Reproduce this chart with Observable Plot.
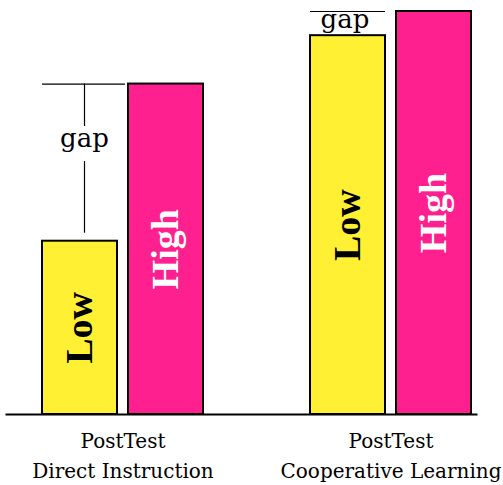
<!DOCTYPE html>
<html><head><meta charset="utf-8">
<script src="https://cdn.jsdelivr.net/npm/d3@7"></script>
<script src="https://cdn.jsdelivr.net/npm/@observablehq/plot@0.6"></script>
<style>body{margin:0;background:#fff}</style>
</head><body><div id="chart"></div>
<script>
const groups = ["Direct Instruction", "Cooperative Learning"];
const levels = ["Low", "High"];
const lowValues = [43, 94];
const highValues = [82, 100];
const groupPrefix = "PostTest";
const gapLabel = "gap";
const colors = ["#fff033", "#ff2090"];

const bars = groups.flatMap((g, i) => [
  {group: g, level: levels[0], value: lowValues[i]},
  {group: g, level: levels[1], value: highValues[i]}
]);
const gaps = groups.map((g, i) => ({
  group: g, level: levels[0], low: lowValues[i], high: highValues[i],
  labelY: highValues[i] - 0.35 * (highValues[i] - lowValues[i])
}));
const diGap = gaps.filter(d => d.group === groups[0]);
const clGap = gaps.filter(d => d.group === groups[1]);

const boldSerif = "'Liberation Serif', 'DejaVu Serif', serif";
const serif = "'DejaVu Serif', 'Liberation Serif', serif";
const chart = Plot.plot({
  width: 503, height: 485,
  marginTop: 11, marginBottom: 71, marginLeft: 6, marginRight: 26,
  style: {fontFamily: serif, background: "white", overflow: "visible"},
  fx: {domain: groups, paddingInner: 0.3985, paddingOuter: 0.0764, align: 0.872, label: null},
  x: {domain: levels, paddingInner: 0.133, paddingOuter: 0, axis: null},
  y: {domain: [0, 100], axis: null},
  color: {domain: levels, range: colors},
  marks: [
    Plot.barY(bars, {fx: "group", x: "level", y: "value", fill: "level", stroke: "black", strokeWidth: 2}),
    Plot.text(bars.filter(d => d.level === levels[0]), {fx: "group", x: "level", y: d => d.value / 2, text: "level", rotate: -90, fill: "black", fontSize: 38, fontWeight: "bold", fontFamily: boldSerif}),
    Plot.text(bars.filter(d => d.level === levels[1]), {fx: "group", x: "level", y: d => d.value / 2, text: "level", rotate: -90, fill: "white", fontSize: 38, fontWeight: "bold", fontFamily: boldSerif}),
    Plot.ruleY(diGap, {fx: "group", x1: "level", x2: "level", y: "high", insetRight: -8, stroke: "black", strokeWidth: 1.2}),
    Plot.ruleX(diGap, {fx: "group", x: "level", y1: "high", y2: "labelY", dx: 4.5, insetBottom: 12.5, stroke: "black", strokeWidth: 1.2}),
    Plot.ruleX(diGap, {fx: "group", x: "level", y1: "labelY", y2: "low", dx: 4.5, insetTop: 22.5, insetBottom: 8, stroke: "black", strokeWidth: 1.2}),
    Plot.text(diGap, {fx: "group", x: "level", y: "labelY", text: () => gapLabel, fontSize: 26, dx: 4.5, fill: "black", fontFamily: serif}),
    Plot.ruleY(clGap, {fx: "group", x1: "level", x2: "level", y: "high", stroke: "black", strokeWidth: 1.2}),
    Plot.text(clGap, {fx: "group", x: "level", y: "labelY", text: () => gapLabel, fontSize: 26, dx: -3, fill: "black", fontFamily: serif}),
    Plot.frame({anchor: "bottom", facet: "super", strokeWidth: 2, stroke: "black", insetLeft: -36, insetRight: -5}),
    Plot.axisFx({anchor: "bottom", tickFormat: d => groupPrefix + "\n" + d, tickSize: 0, tickPadding: 12, fontSize: 20, lineHeight: 1.5, label: null, fontFamily: serif, fill: "black"})
  ]
});
document.getElementById("chart").append(chart);
</script>
</body></html>
